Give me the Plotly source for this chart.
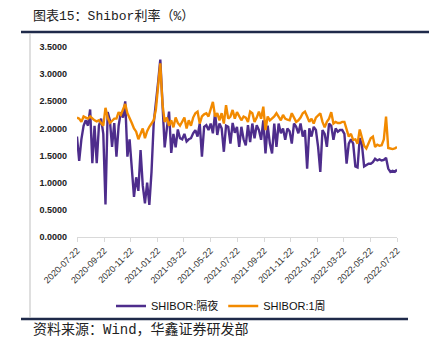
import pandas as pd
import plotly.graph_objects as go

# ---- data (5-day spacing) ----
start_date = "2020-07-22"
n_points = 147
dates = pd.date_range(start_date, periods=n_points, freq="5D")

shibor_on = [
    1.85, 1.40, 1.80, 2.05, 2.15, 2.05, 2.35, 1.36, 2.05, 1.36,
    2.05, 2.18, 1.90, 0.60, 2.30, 2.15, 1.66, 2.10, 1.48, 2.05,
    2.30, 2.20, 2.50, 1.48, 1.80, 1.20, 0.74, 1.10, 0.85, 1.60,
    0.95, 0.62, 1.00, 0.59, 1.20, 2.10, 2.55, 2.85, 3.27, 2.30,
    1.65, 2.00, 2.31, 1.55, 1.90, 1.65, 1.98, 1.82, 1.80, 1.90,
    1.76, 1.80, 1.82, 1.91, 1.97, 1.85, 2.09, 1.48, 2.03, 2.06,
    1.97, 2.09, 1.91, 2.28, 1.88, 2.09, 2.00, 1.57, 2.05, 2.03,
    1.72, 2.10, 1.92, 2.03, 1.66, 2.03, 1.80, 1.69, 2.06, 1.75,
    2.09, 1.82, 2.06, 1.97, 1.79, 2.15, 1.54, 2.05, 1.72, 1.54,
    2.09, 1.66, 2.09, 1.91, 2.00, 1.79, 2.00, 1.95, 1.72, 2.09,
    2.03, 1.91, 2.09, 1.85, 1.97, 1.26, 2.00, 1.85, 2.03, 1.97,
    1.66, 1.20, 1.97, 1.90, 1.66, 2.09, 2.05, 1.79, 2.00, 1.94,
    1.97, 1.97, 1.90, 1.35, 1.72, 1.80, 1.72, 1.30, 1.28, 1.82,
    1.70, 1.30, 1.32, 1.35, 1.35, 1.38, 1.44, 1.41, 1.43, 1.41,
    1.42, 1.46, 1.26, 1.20, 1.22, 1.20, 1.24,
]

shibor_1w = [
    2.20, 2.18, 2.12, 2.22, 2.20, 2.18, 2.22, 2.18, 2.15, 2.13,
    2.15, 2.10, 2.05, 2.38, 2.20, 2.10, 2.15, 2.18, 2.18, 2.30,
    2.25, 2.35, 2.45, 2.28, 2.20, 2.10, 2.00, 1.94, 1.80, 1.92,
    2.00, 1.82, 1.95, 2.03, 2.08, 2.15, 2.35, 2.85, 3.20, 2.45,
    2.12, 2.20, 2.05, 2.15, 2.02, 2.20, 2.10, 2.05, 2.12, 2.20,
    2.00, 2.15, 2.05, 2.20, 2.28, 2.31, 2.09, 2.22, 2.26, 2.28,
    2.22, 2.34, 2.49, 2.22, 2.28, 2.15, 2.28, 2.09, 2.43, 2.18,
    2.22, 2.34, 2.18, 2.30, 2.22, 2.15, 2.22, 2.20, 2.12, 2.31,
    2.28, 2.12, 2.20, 2.31, 2.18, 2.40, 1.97, 2.22, 2.15, 2.18,
    2.22, 2.28, 2.22, 2.15, 2.25, 2.18, 2.16, 2.15, 2.28, 2.20,
    2.12, 2.15, 2.20, 2.28, 2.31, 2.22, 2.12, 2.18, 2.09, 2.20,
    2.25, 2.28, 2.12, 2.02, 2.12, 2.18, 2.30, 2.09, 2.12, 2.10,
    2.10, 2.12, 2.12, 1.97, 1.85, 1.90, 1.79, 1.80, 1.72, 1.98,
    1.80, 1.68, 1.63, 1.73, 1.82, 1.85, 1.66, 1.70, 1.68, 1.69,
    1.80, 2.22, 1.64, 1.63, 1.62, 1.63, 1.66,
]

x_tick_labels = [
    "2020-07-22", "2020-09-22", "2020-11-22", "2021-01-22", "2021-03-22",
    "2021-05-22", "2021-07-22", "2021-09-22", "2021-11-22", "2022-01-22",
    "2022-03-22", "2022-05-22", "2022-07-22",
]
y_tick_vals = [0, 0.5, 1.0, 1.5, 2.0, 2.5, 3.0, 3.5]
y_tick_text = ["%.4f" % v for v in y_tick_vals]

series_names = ["SHIBOR:隔夜", "SHIBOR:1周"]
series_colors = ["#4E2D8C", "#F28A00"]

title_text = "图表15：Shibor利率（%）"
source_text = "资料来源：Wind，华鑫证券研发部"

# ---- figure ----
W, H = 429, 346
ML, MR, MT, MB = 77, 32, 47, 109
pw, ph = W - ML - MR, H - MT - MB


def px_x(x):
    return (x - ML) / pw


def px_y(y):
    return (H - MB - y) / ph


fig = go.Figure()
fig.add_trace(go.Scatter(x=dates, y=shibor_on, mode="lines", name=series_names[0],
                         line=dict(color=series_colors[0], width=2.4)))
fig.add_trace(go.Scatter(x=dates, y=shibor_1w, mode="lines", name=series_names[1],
                         line=dict(color=series_colors[1], width=2.4)))

cjk = "Noto Sans CJK SC"
fig.update_layout(
    width=W, height=H,
    margin=dict(l=ML, r=MR, t=MT, b=MB),
    paper_bgcolor="white", plot_bgcolor="white",
    showlegend=True,
    legend=dict(orientation="h", x=0.45, y=px_y(306), xanchor="center", yanchor="middle",
                font=dict(family="Liberation Sans, " + cjk, size=11, color="#111"),
                itemwidth=30, tracegroupgap=0, bgcolor="rgba(0,0,0,0)"),
    xaxis=dict(
        type="date",
        range=[dates[0], dates[-1]],
        tickmode="array",
        tickvals=x_tick_labels,
        ticktext=x_tick_labels,
        tickangle=-45,
        tickfont=dict(family="Liberation Sans", size=9, color="#333"),
        showgrid=False, zeroline=False,
        showline=True, linecolor="#d9d9d9", linewidth=1,
        ticks="outside", ticklen=4, tickcolor="#d9d9d9",
    ),
    yaxis=dict(
        range=[0, 3.5],
        tickmode="array",
        tickvals=y_tick_vals,
        ticktext=y_tick_text,
        tickfont=dict(family="Liberation Sans", size=9, color="#222", weight="bold"),
        showgrid=False, zeroline=False, showline=False,
        ticks="", ticklabelstandoff=9,
    ),
)

navy = "#1F2A4A"
fig.add_shape(type="line", xref="paper", yref="paper",
              x0=px_x(21), x1=px_x(429), y0=px_y(32), y1=px_y(32),
              line=dict(color=navy, width=2.5))
fig.add_shape(type="line", xref="paper", yref="paper",
              x0=px_x(21), x1=px_x(408), y0=px_y(319), y1=px_y(319),
              line=dict(color=navy, width=2.5))
fig.add_shape(type="line", xref="paper", yref="paper",
              x0=px_x(30), x1=px_x(30), y0=px_y(33), y1=px_y(318),
              line=dict(color="#bfbfbf", width=1))

fig.add_annotation(text=title_text, xref="paper", yref="paper",
                   x=px_x(31), y=px_y(16), xanchor="left", yanchor="middle",
                   showarrow=False,
                   font=dict(family="Liberation Mono, " + cjk, size=13, color="#222"))
fig.add_annotation(text=source_text, xref="paper", yref="paper",
                   x=px_x(31), y=px_y(329), xanchor="left", yanchor="middle",
                   showarrow=False,
                   font=dict(family="Liberation Mono, " + cjk, size=14, color="#222"))

fig.write_html("out.html")
